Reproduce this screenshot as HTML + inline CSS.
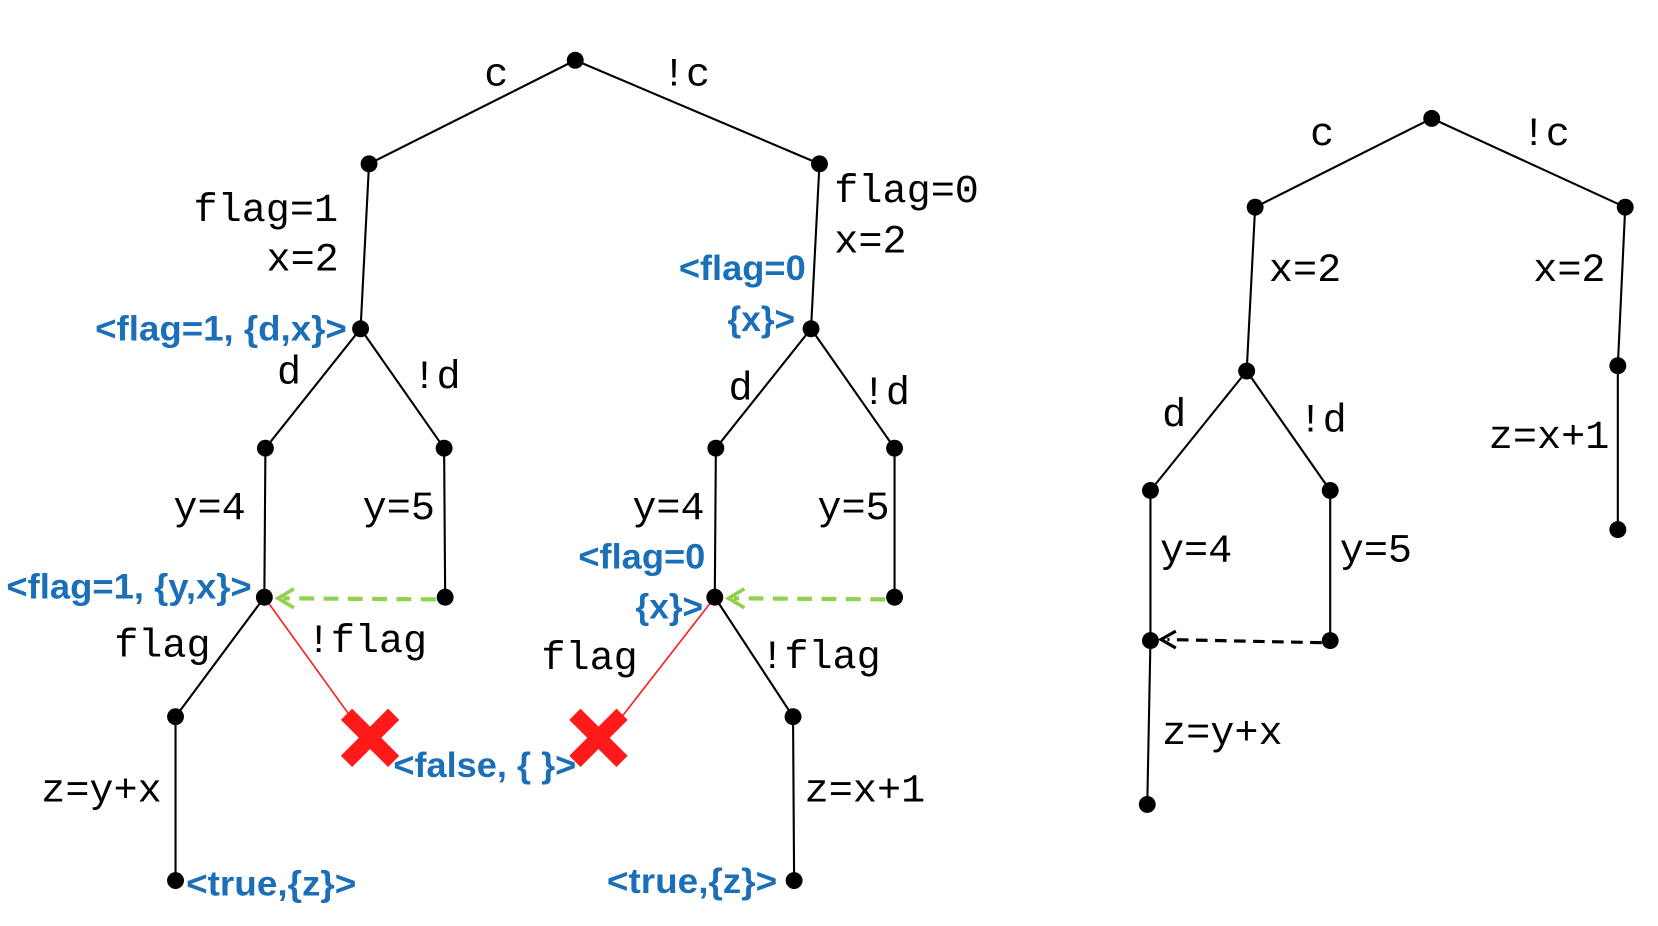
<!DOCTYPE html>
<html><head><meta charset="utf-8"><style>
html,body{margin:0;padding:0;background:#fff;width:1658px;height:926px;overflow:hidden}
svg{display:block}
.m{font-family:"Liberation Mono",monospace;font-size:38px;fill:#000}
.b{font-family:"Liberation Sans",sans-serif;font-weight:bold;font-size:33px;fill:#1a6fb8}
</style></head><body>
<svg width="1658" height="926" viewBox="0 0 1568 876" preserveAspectRatio="none" xmlns="http://www.w3.org/2000/svg">
<g stroke="#000" stroke-width="2" fill="none">
<path d="M544,57 L349,155 M544,57 L775,155 M349,155 L341,311 M775,155 L767,311 M341,311 L251,424 M341,311 L420,424 M251,424 L250,565 M420,424 L421,565 M250,565 L166,678 M166,678 L166,833 M767,311 L677,424 M767,311 L846,424 M677,424 L676,565 M846,424 L846,565 M676,565 L750,678 M750,678 L751,833"/>
<path d="M1354,112 L1187,196 M1354,112 L1537,196 M1187,196 L1179,351 M1537,196 L1530,346 L1530,501 M1179,351 L1088,464 M1179,351 L1258,464 M1088,464 L1088,606 L1085,761 M1258,464 L1258,606"/>
</g>
<path d="M250,565 L333,680 M676,565 L585,682" stroke="#ff1a1a" stroke-width="1.5" fill="none"/>
<line x1="412" y1="567" x2="268" y2="566" stroke="#92d050" stroke-width="4" stroke-dasharray="14,9"/>
<line x1="837" y1="567" x2="694" y2="566" stroke="#92d050" stroke-width="4" stroke-dasharray="14,9"/>
<path d="M278,557 L263,566 L278,575 M704,557 L689,566 L704,575" stroke="#92d050" stroke-width="3.5" fill="none"/>
<line x1="1250" y1="608" x2="1104" y2="605" stroke="#000" stroke-width="3" stroke-dasharray="11,7"/>
<path d="M1112,597 L1098,605 L1112,613" stroke="#000" stroke-width="3" fill="none"/>
<g fill="#000">
<circle cx="544" cy="57" r="8"/><circle cx="349" cy="155" r="8"/><circle cx="775" cy="155" r="8"/>
<circle cx="341" cy="311" r="8"/><circle cx="767" cy="311" r="8"/><circle cx="251" cy="424" r="8"/>
<circle cx="420" cy="424" r="8"/><circle cx="250" cy="565" r="8"/><circle cx="421" cy="565" r="8"/>
<circle cx="166" cy="678" r="8"/><circle cx="166" cy="833" r="8"/><circle cx="677" cy="424" r="8"/>
<circle cx="846" cy="424" r="8"/><circle cx="676" cy="565" r="8"/><circle cx="846" cy="565" r="8"/>
<circle cx="750" cy="678" r="8"/><circle cx="751" cy="833" r="8"/>
<circle cx="1354" cy="112" r="8"/><circle cx="1187" cy="196" r="8"/><circle cx="1537" cy="196" r="8"/>
<circle cx="1179" cy="351" r="8"/><circle cx="1530" cy="346" r="8"/><circle cx="1530" cy="501" r="8"/>
<circle cx="1088" cy="464" r="8"/><circle cx="1258" cy="464" r="8"/><circle cx="1088" cy="606" r="8"/>
<circle cx="1258" cy="606" r="8"/><circle cx="1085" cy="761" r="8"/>
</g>
<g stroke="#ff1a1a" stroke-width="15" stroke-linecap="square">
<path d="M333,681 L367,715 M367,681 L333,715"/>
<path d="M549,681 L583,715 M583,681 L549,715"/>
</g>
<g class="m">
<text x="458" y="81">c</text><text x="626" y="81">!c</text>
<text x="183" y="209">flag=1</text><text x="252" y="256">x=2</text>
<text x="789" y="191">flag=0</text><text x="789" y="239">x=2</text>
<text x="262" y="363">d</text><text x="390" y="367">!d</text>
<text x="689" y="378">d</text><text x="815" y="382">!d</text>
<text x="164" y="491">y=4</text><text x="343" y="491">y=5</text>
<text x="598" y="491">y=4</text><text x="773" y="491">y=5</text>
<text x="108" y="621">flag</text><text x="290" y="617">!flag</text>
<text x="512" y="633">flag</text><text x="719" y="632">!flag</text>
<text x="39" y="758">z=y+x</text><text x="761" y="758">z=x+1</text>
<text x="1239" y="137">c</text><text x="1439" y="137">!c</text>
<text x="1200" y="266">x=2</text><text x="1450" y="266">x=2</text>
<text x="1408" y="424">z=x+1</text>
<text x="1099" y="403">d</text><text x="1228" y="408">!d</text>
<text x="1097" y="531">y=4</text><text x="1267" y="531">y=5</text>
<text x="1099" y="704">z=y+x</text>
</g>
<g class="b">
<text x="90" y="322" textLength="238" lengthAdjust="spacingAndGlyphs">&lt;flag=1, {d,x}&gt;</text>
<text x="642" y="265" textLength="120" lengthAdjust="spacingAndGlyphs">&lt;flag=0</text>
<text x="688" y="313" textLength="64" lengthAdjust="spacingAndGlyphs">{x}&gt;</text>
<text x="6" y="566" textLength="232" lengthAdjust="spacingAndGlyphs">&lt;flag=1, {y,x}&gt;</text>
<text x="547" y="538" textLength="120" lengthAdjust="spacingAndGlyphs">&lt;flag=0</text>
<text x="601" y="585" textLength="64" lengthAdjust="spacingAndGlyphs">{x}&gt;</text>
<text x="372" y="735" textLength="173" lengthAdjust="spacingAndGlyphs">&lt;false, { }&gt;</text>
<text x="176" y="847" textLength="161" lengthAdjust="spacingAndGlyphs">&lt;true,{z}&gt;</text>
<text x="574" y="845" textLength="161" lengthAdjust="spacingAndGlyphs">&lt;true,{z}&gt;</text>
</g>
</svg>
</body></html>
